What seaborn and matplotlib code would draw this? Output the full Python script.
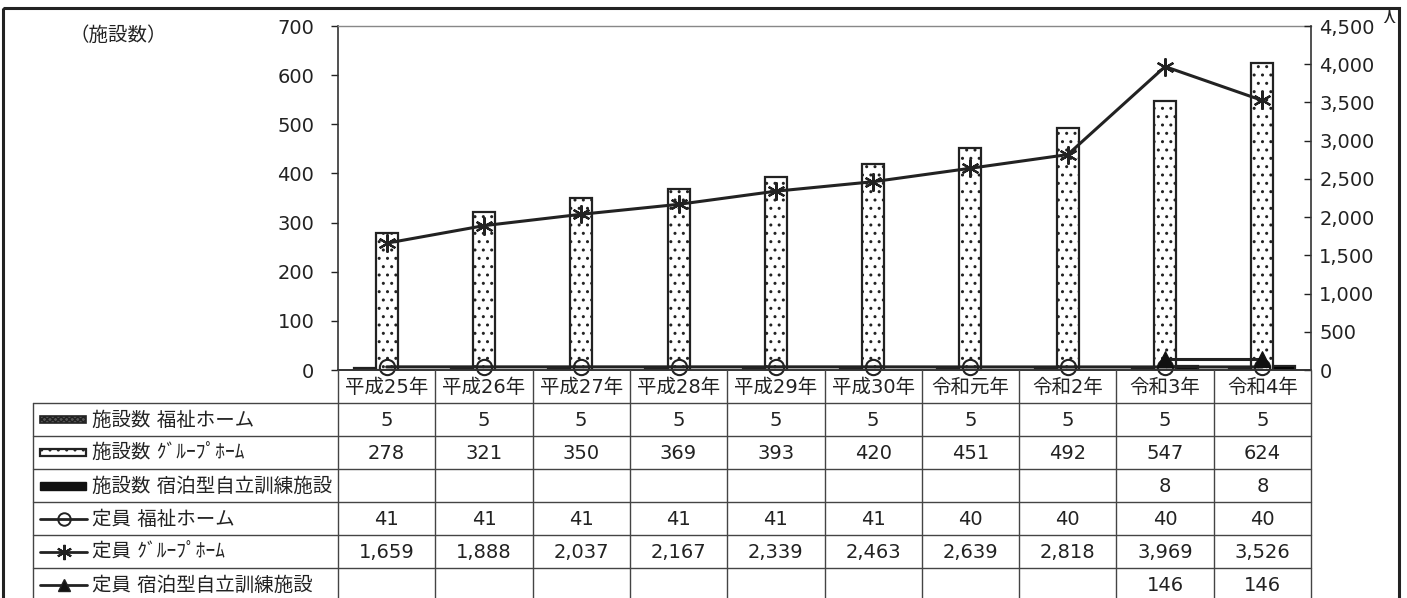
import numpy as np
import pandas as pd
import matplotlib
matplotlib.use('Agg')
import matplotlib.pyplot as plt
import seaborn as sns
from matplotlib.patches import Rectangle
from matplotlib.lines import Line2D
from matplotlib.ticker import FuncFormatter

# ---------------- data ----------------
years = ['平成25年', '平成26年', '平成27年', '平成28年', '平成29年',
         '平成30年', '令和元年', '令和2年', '令和3年', '令和4年']
fac_fukushi = [5, 5, 5, 5, 5, 5, 5, 5, 5, 5]
fac_group = [278, 321, 350, 369, 393, 420, 451, 492, 547, 624]
fac_shuku = [np.nan] * 8 + [8, 8]
cap_fukushi = [41, 41, 41, 41, 41, 41, 40, 40, 40, 40]
cap_group = [1659, 1888, 2037, 2167, 2339, 2463, 2639, 2818, 3969, 3526]
cap_shuku = [np.nan] * 8 + [146, 146]

bar_series = ['施設数 福祉ホーム', '施設数 ｸﾞﾙｰﾌﾟﾎｰﾑ', '施設数 宿泊型自立訓練施設']
line_series = ['定員 福祉ホーム', '定員 ｸﾞﾙｰﾌﾟﾎｰﾑ', '定員 宿泊型自立訓練施設']
left_ticks = [0, 100, 200, 300, 400, 500, 600, 700]
right_ticks = [0, 500, 1000, 1500, 2000, 2500, 3000, 3500, 4000, 4500]

# ---------------- style ----------------
sns.set_style('white')
plt.rcParams['font.family'] = ['DejaVu Sans', 'Noto Sans CJK JP']
plt.rcParams['hatch.linewidth'] = 1.0
FS = 14
TC = '#222222'

W, H = 1407, 598
fig = plt.figure(figsize=(W / 100, H / 100), dpi=100)

PL, PR, PT, PB = 338, 1311, 26, 370
ax = fig.add_axes([PL / W, 1 - PB / H, (PR - PL) / W, (PB - PT) / H])

df = pd.DataFrame({
    'year': years * 3,
    'series': [s for s in bar_series for _ in years],
    'value': fac_fukushi + fac_group + fac_shuku,
})
sns.barplot(data=df, x='year', y='value', hue='series', order=years,
            hue_order=bar_series, palette=['#555555', 'white', 'black'],
            width=0.68, gap=0, dodge=True, errorbar=None, saturation=1,
            edgecolor='#222222', linewidth=1.6, legend=False, ax=ax)
hatches = ['xxxxxx', '..', None]
for cont, h in zip(ax.containers, hatches):
    for p in cont:
        if h:
            p.set_hatch(h)
ax.set_xlim(-0.5, 9.5)
ax.set_ylim(0, 700)
ax.set_yticks(left_ticks)
ax.set_xlabel('')
ax.set_ylabel('')
ax.set_xticks([])
ax.tick_params(axis='y', direction='out', length=5, width=1, pad=12,
               labelsize=FS, colors=TC)
for s in ['left', 'bottom']:
    ax.spines[s].set_color('#333333')
    ax.spines[s].set_linewidth(1.2)
ax.spines['top'].set_color('#888888')
ax.spines['top'].set_linewidth(1.0)
ax.spines['right'].set_visible(False)

ax2 = ax.twinx()
xpos = np.arange(len(years))
ldf = pd.DataFrame({'x': xpos, 'fukushi': cap_fukushi, 'group': cap_group, 'shuku': cap_shuku})
sns.lineplot(data=ldf, x='x', y='group', ax=ax2, color=TC, linewidth=2.2,
             marker=(6, 2, 0), markersize=13, markeredgewidth=1.6,
             markeredgecolor=TC, clip_on=False)
sns.lineplot(data=ldf, x='x', y='fukushi', ax=ax2, color=TC, linewidth=2.2,
             marker='o', markersize=11, markerfacecolor='none',
             markeredgewidth=1.5, markeredgecolor=TC, clip_on=False)
sdf = ldf.dropna(subset=['shuku'])
sns.lineplot(data=sdf, x='x', y='shuku', ax=ax2, color=TC, linewidth=2.2,
             marker='^', markersize=11, markerfacecolor='#111111',
             markeredgecolor='#111111', clip_on=False)
ax2.set_xlim(-0.5, 9.5)
ax2.set_ylim(0, 4500)
ax2.set_yticks(right_ticks)
ax2.yaxis.set_major_formatter(FuncFormatter(lambda v, p: f'{int(v):,}'))
ax2.set_ylabel('')
ax2.set_xlabel('')
ax2.set_xticks([])
ax2.tick_params(axis='y', direction='in', length=5, width=1, pad=6,
                labelsize=FS, colors=TC)
ax2.spines['right'].set_color('#333333')
ax2.spines['right'].set_linewidth(1.2)
for s in ['left', 'top', 'bottom']:
    ax2.spines[s].set_visible(False)

# ---------------- table / frame ----------------
tab = fig.add_axes([0, 0, 1, 1], zorder=5)
tab.set_xlim(0, W)
tab.set_ylim(H, 0)
tab.axis('off')
tab.patch.set_alpha(0)

TL = 33
colw = (PR - PL) / len(years)
RH = 33
LC = '#444444'
# header row
tab.plot([PL, PR], [PB, PB], color='#333333', lw=1.2)
for i, y in enumerate(years):
    tab.text(PL + (i + 0.5) * colw, PB + RH / 2 + 1, y, ha='center', va='center', fontsize=FS,
             color=TC)
# horizontal lines
for r in range(1, 7):
    yy = PB + r * RH
    tab.plot([TL, PR], [yy, yy], color=LC, lw=1.0)
# vertical lines
tab.plot([TL, TL], [PB + RH, H + 5], color=LC, lw=1.0)
for k in range(len(years) + 1):
    xx = PL + k * colw
    tab.plot([xx, xx], [PB, H + 5], color=LC, lw=1.0)

rows = [fac_fukushi, fac_group, fac_shuku, cap_fukushi, cap_group, cap_shuku]
labels = bar_series + line_series
for r, (vals, lab) in enumerate(zip(rows, labels)):
    cy = PB + RH * (r + 1) + RH / 2
    tab.text(92, cy + 1, lab, ha='left', va='center', fontsize=FS, color=TC)
    for i, v in enumerate(vals):
        if v is None or (isinstance(v, float) and np.isnan(v)):
            continue
        tab.text(PL + (i + 0.5) * colw, cy + 1, f'{int(v):,}', ha='center', va='center',
                 fontsize=FS, color=TC)

# legend keys
cy0 = PB + RH * 1.5
tab.add_patch(Rectangle((40, cy0 - 3.5), 46, 7, facecolor='#555555', edgecolor=TC,
                        hatch='xxxxxx', lw=1.2))
cy1 = PB + RH * 2.5
tab.add_patch(Rectangle((40, cy1 - 3.5), 46, 7, facecolor='white', edgecolor=TC,
                        hatch='..', lw=1.6))
cy2 = PB + RH * 3.5
tab.add_patch(Rectangle((40, cy2 - 4), 46, 8, facecolor='#111111', edgecolor='#111111', lw=1))
mk = [dict(marker='o', markersize=9, markerfacecolor='none', markeredgewidth=1.4),
      dict(marker=(6, 2, 0), markersize=11, markeredgewidth=1.5),
      dict(marker='^', markersize=9, markerfacecolor='#111111')]
for j, m in enumerate(mk):
    cy = PB + RH * (4.5 + j)
    tab.add_line(Line2D([40, 87], [cy, cy], color=TC, lw=2.0))
    tab.add_line(Line2D([63.5], [cy], color=TC, lw=0, **m))

# axis titles
tab.text(118, 35, '（施設数）', ha='center', va='center', fontsize=FS, color=TC,
         family=['Noto Sans CJK JP'])
t = tab.text(1389, 20, '人', ha='center', va='center', fontsize=FS, color=TC,
             family=['Noto Sans CJK JP'])
clip = Rectangle((1370, 9), 40, 14, transform=tab.transData)
t.set_clip_path(clip)
t.set_clip_on(True)

# figure frame
tab.add_patch(Rectangle((3, 8), 1396, H + 20, facecolor='none', edgecolor=TC, lw=2.2,
                        clip_on=False))

fig.savefig('out.png', dpi=100)
